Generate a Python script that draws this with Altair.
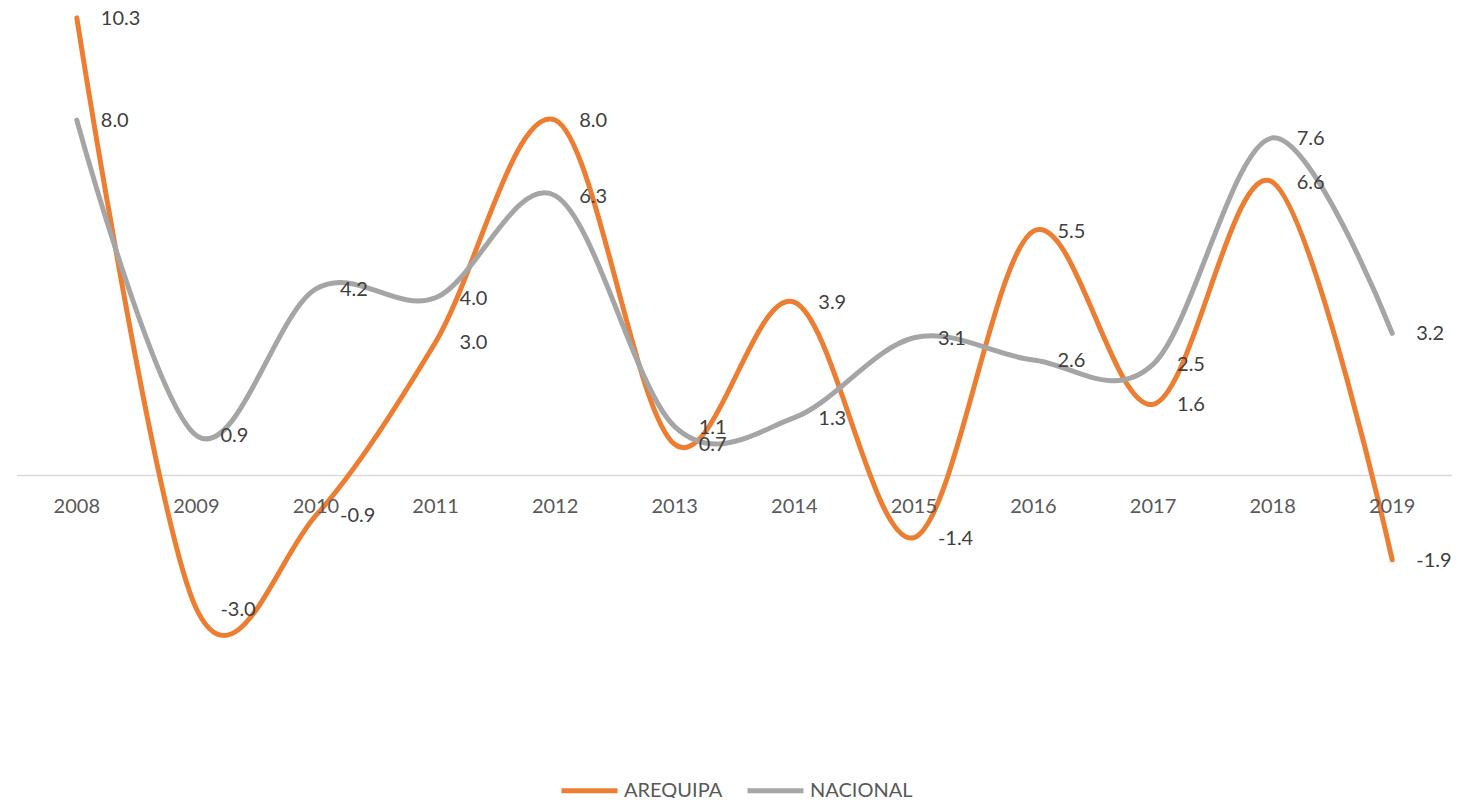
import altair as alt
import pandas as pd

years = ["2008", "2009", "2010", "2011", "2012", "2013", "2014", "2015", "2016", "2017", "2018", "2019"]
arequipa = [10.3, -3.0, -0.9, 3.0, 8.0, 0.7, 3.9, -1.4, 5.5, 1.6, 6.6, -1.9]
nacional = [8.0, 0.9, 4.2, 4.0, 6.3, 1.1, 1.3, 3.1, 2.6, 2.5, 7.6, 3.2]
series = ["AREQUIPA", "NACIONAL"]
colors = ["#ED7D31", "#A5A5A5"]

rows = []
for s, vals in zip(series, [arequipa, nacional]):
    for y, v in zip(years, vals):
        rows.append({"year": y, "value": v, "serie": s, "label": f"{v:.1f}"})
df = pd.DataFrame(rows)
yr = pd.DataFrame({"year": years, "value": [0] * len(years)})
zdf = pd.DataFrame({"value": [0]})

W = 1435
H = 733
FONT = "Lato"

x = alt.X("year:N", sort=years, axis=None,
          scale=alt.Scale(paddingInner=0, paddingOuter=0.5))
y = alt.Y("value:Q", axis=None, scale=alt.Scale(domain=[-6, 10.5], nice=False, zero=False))
color = alt.Color("serie:N", scale=alt.Scale(domain=series, range=colors),
                  legend=alt.Legend(title=None, orient="none", direction="horizontal",
                                    legendX=542, legendY=751,
                                    symbolType="stroke", symbolSize=3136, symbolStrokeWidth=5,
                                    labelFont=FONT, labelFontSize=20, labelColor="#595959",
                                    labelOffset=4, columnPadding=14))

zero = alt.Chart(zdf).mark_rule(color="#D9D9D9", strokeWidth=1.5).encode(y=y)

def line(s):
    return alt.Chart(df[df.serie == s]).mark_line(
        interpolate="cardinal", strokeWidth=5, strokeCap="round", strokeJoin="round"
    ).encode(x=x, y=y, color=color)

labels = alt.Chart(df).mark_text(
    align="left", baseline="middle", dx=24, dy=1, font=FONT, fontSize=20, color="#404040"
).encode(x=x, y=y, text="label:N")

ticks = alt.Chart(yr).mark_text(
    align="center", baseline="middle", dy=32, font=FONT, fontSize=20, color="#595959"
).encode(x=x, y=y, text="year:N")

chart = alt.layer(zero, line("AREQUIPA"), line("NACIONAL"), ticks, labels).properties(
    width=W, height=H,
    autosize=alt.AutoSizeParams(type="none"),
    padding={"left": 9, "top": 1, "right": 16, "bottom": 56},
).configure_view(stroke=None)

chart.save("out.html", embed_options={"renderer": "svg", "actions": False})
